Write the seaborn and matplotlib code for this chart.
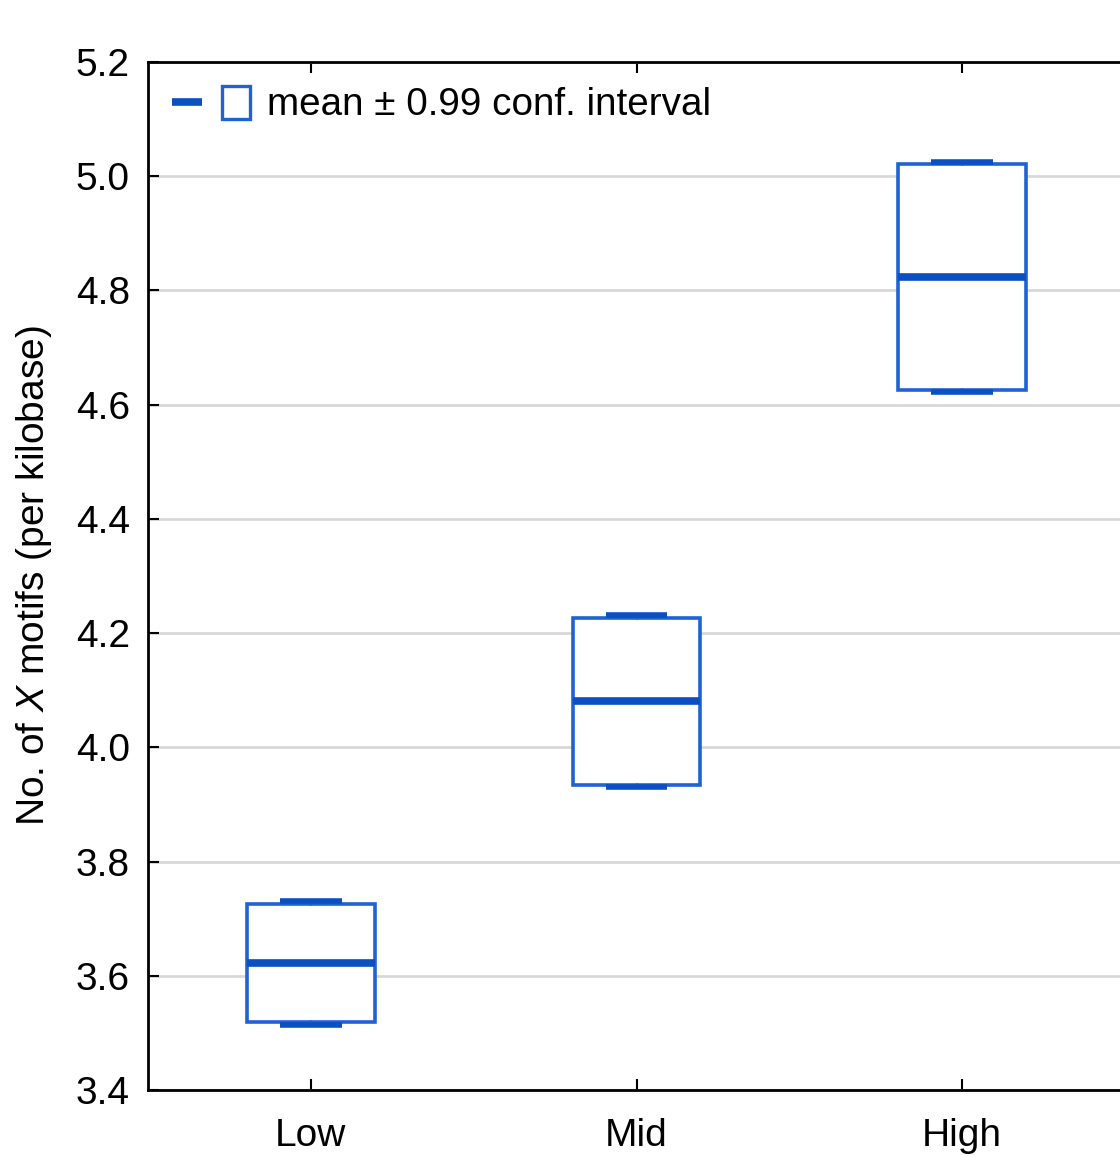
import matplotlib
matplotlib.use("Agg")
import matplotlib.pyplot as plt
import seaborn as sns
from matplotlib.patches import Rectangle
from matplotlib.lines import Line2D

# ---- data ----
categories = ["Low", "Mid", "High"]
means = [3.622, 4.081, 4.824]
ci_low = [3.519, 3.934, 4.626]
ci_high = [3.726, 4.226, 5.021]
cap_low = [3.514, 3.930, 4.622]
cap_high = [3.731, 4.232, 5.025]
yticks = [3.4, 3.6, 3.8, 4.0, 4.2, 4.4, 4.6, 4.8, 5.0, 5.2]
legend_label = "mean \u00b1 0.99 conf. interval"
ylabel = "No. of $\\mathit{X}$ motifs (per kilobase)"

sns.set_theme(style="white")
plt.rcParams["font.family"] = ["Liberation Sans", "DejaVu Sans"]
plt.rcParams["mathtext.fontset"] = "custom"
plt.rcParams["mathtext.rm"] = "Liberation Sans"
plt.rcParams["mathtext.it"] = "Liberation Sans:italic"

box_col = "#1f62d6"
mean_col = "#0a50c2"

fig = plt.figure(figsize=(11.2, 11.57), dpi=100)
ax = fig.add_axes([148 / 1120, 1 - 1090 / 1157, (1125 - 148) / 1120, (1090 - 62) / 1157])

stats = []
for c, m, lo, hi, wl, wh in zip(categories, means, ci_low, ci_high, cap_low, cap_high):
    stats.append(dict(label=c, med=m, q1=lo, q3=hi, whislo=wl, whishi=wh, fliers=[]))

ax.bxp(
    stats,
    positions=range(len(categories)),
    widths=0.392,
    capwidths=0.19,
    patch_artist=True,
    showfliers=False,
    boxprops=dict(facecolor="white", edgecolor=box_col, linewidth=2.6),
    medianprops=dict(color=mean_col, linewidth=5.5, solid_capstyle="butt"),
    whiskerprops=dict(color=box_col, linewidth=2.6),
    capprops=dict(color=mean_col, linewidth=4, solid_capstyle="butt"),
    zorder=3,
)

ax.set_xlim(-0.5, 2.5)
ax.set_ylim(3.4, 5.2)
ax.set_yticks(yticks)
ax.set_yticklabels([f"{t:.1f}" for t in yticks])
ax.set_xticks(range(len(categories)))
ax.set_xticklabels(categories)

ax.yaxis.grid(True, color="#d8d8d8", linewidth=2)
ax.xaxis.grid(False)
ax.set_axisbelow(True)

for s in ["left", "bottom", "top"]:
    ax.spines[s].set_visible(True)
    ax.spines[s].set_color("black")
    ax.spines[s].set_linewidth(2)
ax.spines["right"].set_visible(False)

ax.tick_params(axis="both", direction="in", length=8, width=1.5, color="black",
               labelsize=28, pad=13, labelcolor="black")
ax.tick_params(axis="x", top=True, bottom=True, pad=20)
ax.tick_params(axis="y", left=True, right=False)

ax.set_ylabel(ylabel, fontsize=28, labelpad=16, color="black")
ax.set_xlabel("")

# legend
tr = ax.transAxes
W = (1125 - 148)
H = (1090 - 62)
def ax_x(px):
    return (px - 148) / W
def ax_y(py):
    return (1090 - py) / H
ax.add_line(Line2D([ax_x(172), ax_x(202)], [ax_y(102), ax_y(102)], transform=tr,
                   color=mean_col, linewidth=5.5, solid_capstyle="butt", zorder=5))
ax.add_patch(Rectangle((ax_x(222), ax_y(119)), ax_x(250) - ax_x(222), ax_y(86) - ax_y(119),
                       transform=tr, facecolor="white", edgecolor=box_col, linewidth=2.4, zorder=5))
ax.text(ax_x(267), ax_y(105), legend_label, transform=tr, fontsize=27.8, va="center",
        ha="left", color="black", zorder=5)

fig.savefig("out.png", dpi=100)
